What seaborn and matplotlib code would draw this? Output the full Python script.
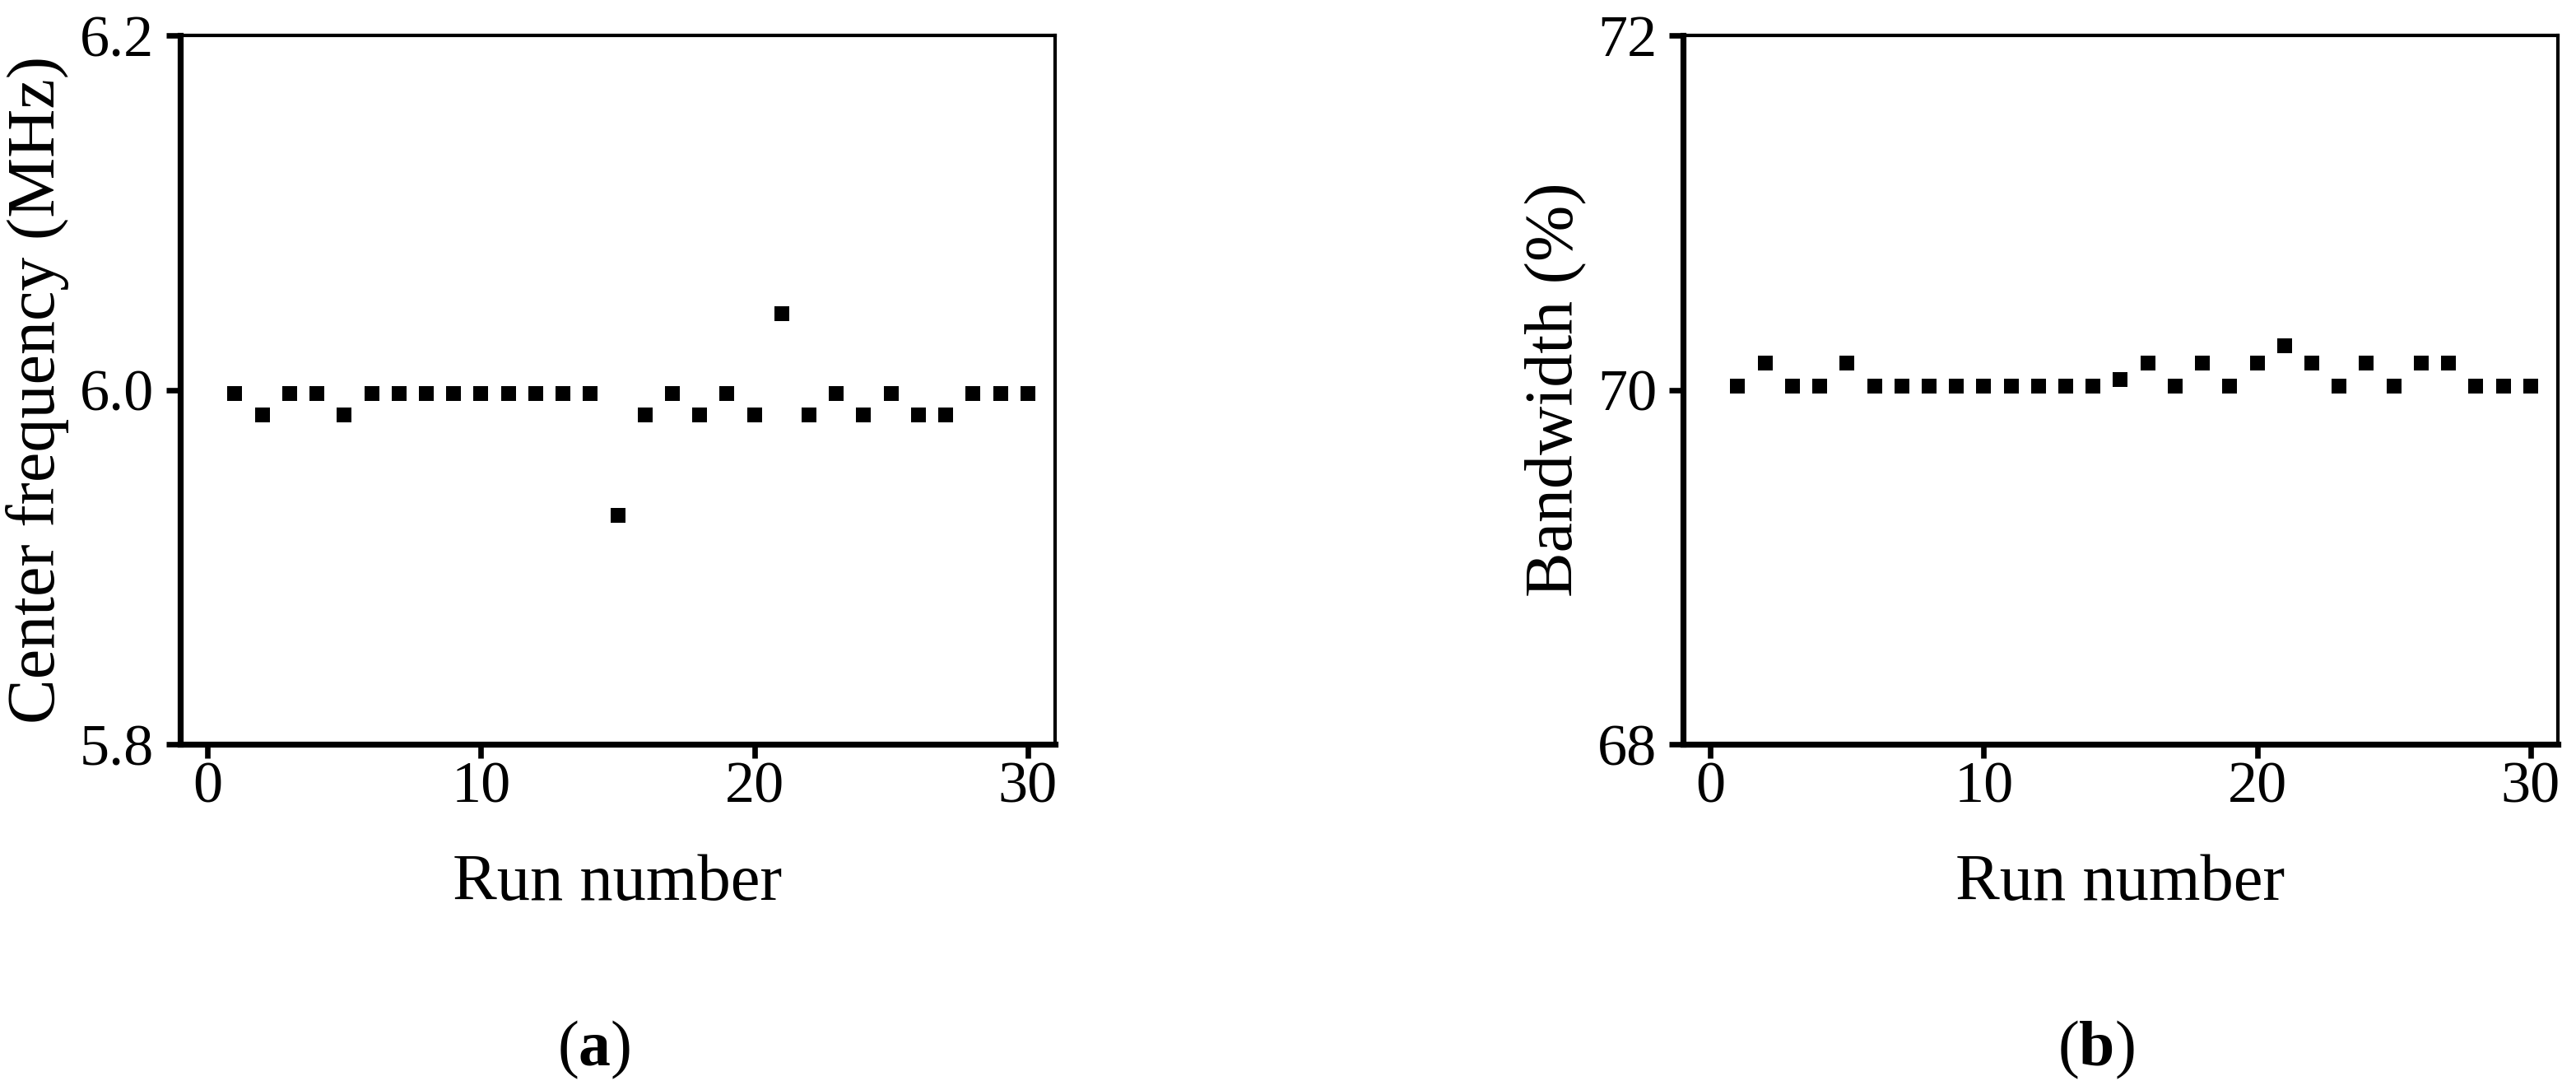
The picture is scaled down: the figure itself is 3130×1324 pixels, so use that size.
import numpy as np
import pandas as pd
import matplotlib
matplotlib.use("Agg")
import matplotlib.pyplot as plt
from matplotlib.ticker import FormatStrFormatter
import seaborn as sns

# ---- data ----
run_number = list(range(1, 31))
center_freq = [5.998, 5.986, 5.998, 5.998, 5.986, 5.998, 5.998, 5.998, 5.998, 5.998,
               5.998, 5.998, 5.998, 5.998, 5.929, 5.986, 5.998, 5.986, 5.998, 5.986,
               6.043, 5.986, 5.998, 5.986, 5.998, 5.986, 5.986, 5.998, 5.998, 5.998]
bandwidth = [70.02, 70.15, 70.02, 70.02, 70.15, 70.02, 70.02, 70.02, 70.02, 70.02,
             70.02, 70.02, 70.02, 70.02, 70.06, 70.15, 70.02, 70.15, 70.02, 70.15,
             70.25, 70.15, 70.02, 70.15, 70.02, 70.15, 70.15, 70.02, 70.02, 70.02]
freq_ticks = [5.8, 6.0, 6.2]
bw_ticks = [68, 70, 72]
run_ticks = [0, 10, 20, 30]

df = pd.DataFrame({"run": run_number, "freq": center_freq, "bw": bandwidth})

sns.set_style("ticks")
plt.rcParams["font.family"] = ["Liberation Serif", "DejaVu Serif"]
plt.rcParams["mathtext.fontset"] = "custom"
plt.rcParams["mathtext.rm"] = "Liberation Serif"
plt.rcParams["mathtext.bf"] = "Liberation Serif:bold"
plt.rcParams["text.color"] = "black"
plt.rcParams["axes.labelcolor"] = "black"
plt.rcParams["axes.edgecolor"] = "black"
plt.rcParams["xtick.color"] = "black"
plt.rcParams["ytick.color"] = "black"

fig = plt.figure(figsize=(31.3, 13.24), dpi=100)
ax_a = fig.add_axes([0.06997, 0.31722, 0.33962, 0.65030])
ax_b = fig.add_axes([0.65335, 0.31722, 0.33962, 0.65030])

panels = [
    (ax_a, "freq", "Center frequency (MHz)", (5.8, 6.2), freq_ticks, "%.1f", "a", 0.2304),
    (ax_b, "bw", "Bandwidth (%)", (68, 72), bw_ticks, "%d", "b", 0.8137),
]

for ax, col, ylabel, ylim, yticks, fmt, letter, cap_x in panels:
    sns.scatterplot(data=df, x="run", y=col, ax=ax, marker="s", s=169,
                    color="black", linewidth=0, legend=False)
    ax.set_xlim(-1, 31)
    ax.set_ylim(*ylim)
    ax.set_xticks(run_ticks)
    ax.set_yticks(yticks)
    ax.yaxis.set_major_formatter(FormatStrFormatter(fmt))
    ax.set_xlabel("Run number", fontsize=58, labelpad=34)
    ax.set_ylabel(ylabel, fontsize=59, labelpad=9)
    ax.tick_params(axis="both", labelsize=52, length=12, width=4.8, direction="out")
    ax.tick_params(axis="x", pad=3)
    ax.tick_params(axis="y", pad=11)
    for side in ["left", "bottom"]:
        ax.spines[side].set_linewidth(5.2)
    for side in ["top", "right"]:
        ax.spines[side].set_linewidth(3.0)
        ax.spines[side].set_visible(True)
    fig.text(cap_x, 0.037, r"($\mathbf{" + letter + r"}$)", fontsize=56,
             ha="center", va="center")

fig.savefig("out.png", dpi=100, facecolor="white")
